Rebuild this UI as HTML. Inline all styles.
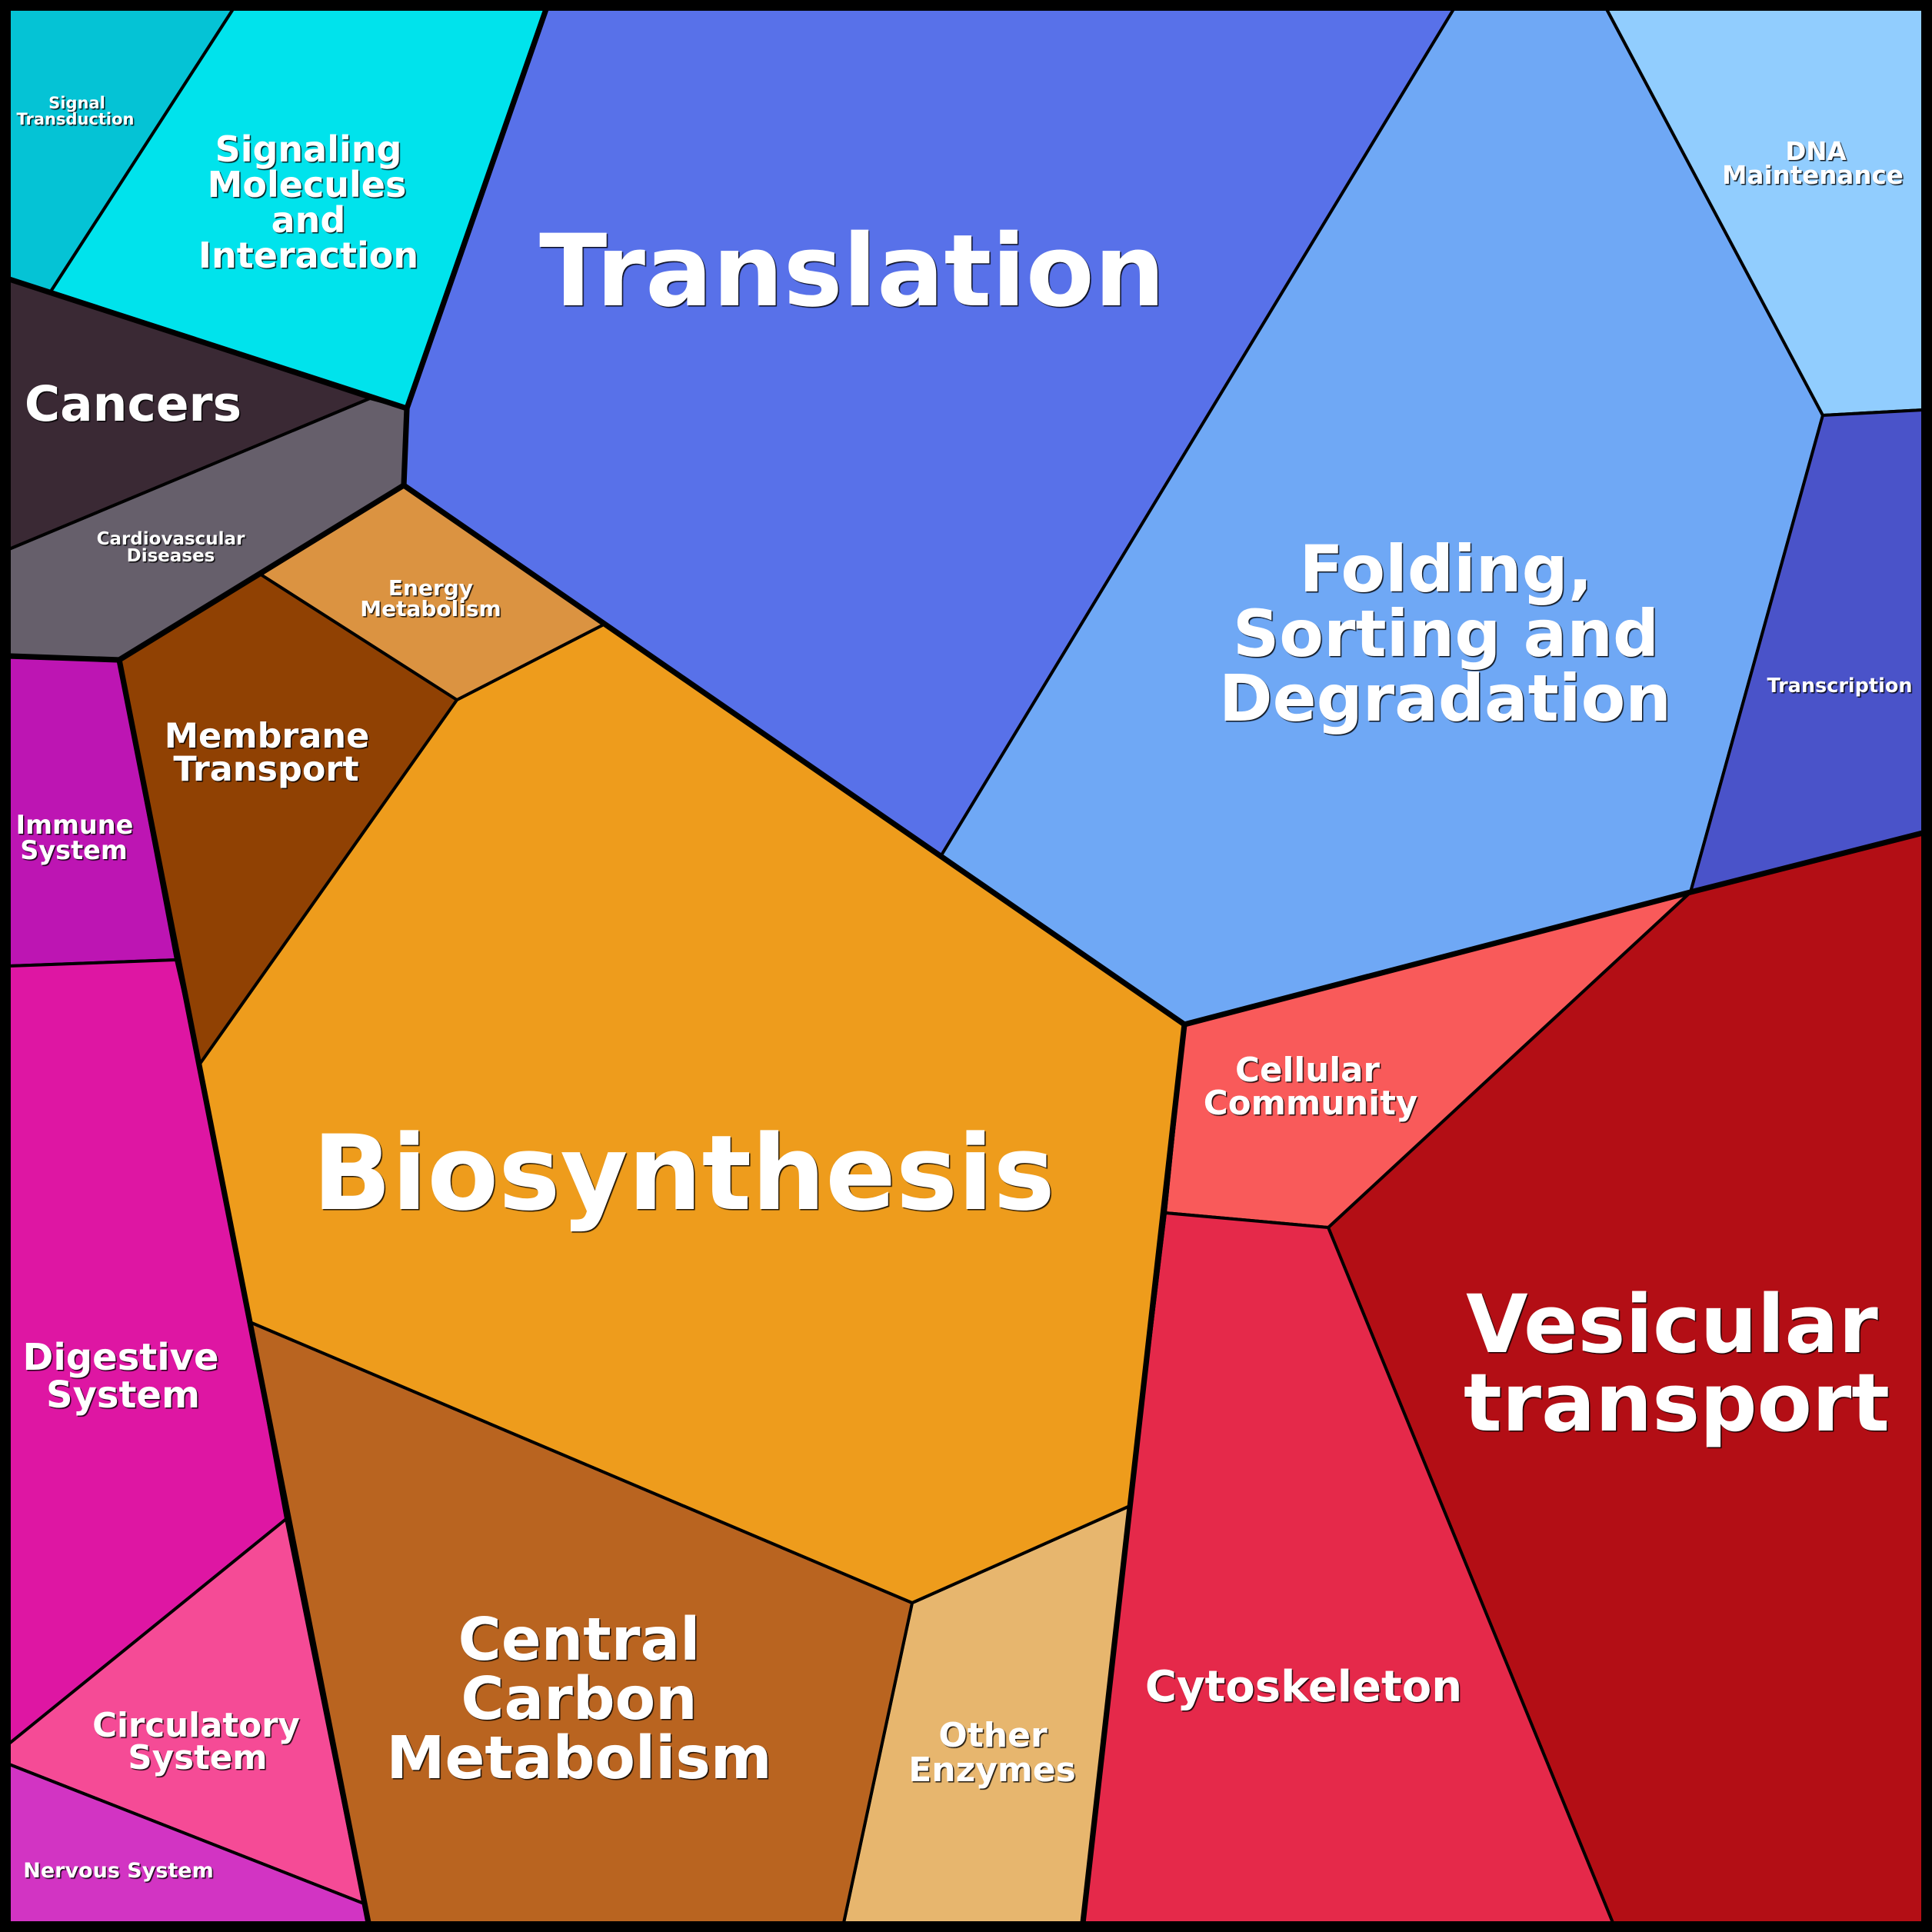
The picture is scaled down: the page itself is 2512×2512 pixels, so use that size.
<!DOCTYPE html>
<html><head><meta charset="utf-8"><style>
html,body{margin:0;padding:0;background:#000}
svg{display:block}
text{font-family:"DejaVu Sans","Liberation Sans",sans-serif;font-weight:bold;fill:#fff;text-anchor:middle;text-shadow:1.5px 1.5px 0.8px rgba(0,0,0,.85)}
.t polygon{stroke:#000;stroke-width:4;stroke-linejoin:round}
.b polyline{fill:none;stroke:#000;stroke-width:7.2;stroke-linejoin:round}
</style></head><body>
<svg width="2512" height="2512" viewBox="0 0 2512 2512" xmlns="http://www.w3.org/2000/svg">
<rect width="2512" height="2512" fill="#000"/>
<g class="t">
<polygon fill="#05C3D5" points="12,12 303,12 66,379 12,363"/>
<polygon fill="#00E3EC" points="303,12 710,12 529,531 66,379"/>
<polygon fill="#3A2934" points="12,363 481,518 12,714"/>
<polygon fill="#665F6B" points="481,518 529,531 525,631 155,858 12,853 12,714"/>
<polygon fill="#5871E9" points="710,12 1890,12 1224,1112 525,631 529,531"/>
<polygon fill="#6FA8F5" points="1890,12 2089,12 2370,540 2198,1160 1540,1332 1224,1112"/>
<polygon fill="#91CDFE" points="2089,12 2500,12 2500,533 2370,540"/>
<polygon fill="#4A53C9" points="2370,540 2500,533 2500,1083 2198,1160"/>
<polygon fill="#B30E15" points="2198,1160 2500,1083 2500,2500 2097,2500 1727,1596"/>
<polygon fill="#F95A5A" points="1540,1332 2198,1160 1727,1596 1515,1577"/>
<polygon fill="#E5294A" points="1515,1577 1727,1596 2097,2500 1408,2500 1469,1958"/>
<polygon fill="#E7B66E" points="1469,1958 1408,2500 1097,2500 1186,2084"/>
<polygon fill="#B96420" points="325,1719 1186,2084 1097,2500 479,2500"/>
<polygon fill="#EE9C1C" points="785,812 1224,1112 1540,1332 1515,1577 1469,1958 1186,2084 325,1719 260,1383 594,910"/>
<polygon fill="#DB9341" points="525,631 785,812 594,910 339,747"/>
<polygon fill="#904103" points="339,747 594,910 260,1383 229,1248 155,858"/>
<polygon fill="#BD15B3" points="12,853 155,858 229,1248 12,1256"/>
<polygon fill="#DE16A3" points="12,1256 229,1248 260,1383 325,1719 372,1975 12,2267"/>
<polygon fill="#F54B96" points="372,1975 473,2475 12,2294 12,2267"/>
<polygon fill="#D234C3" points="12,2294 473,2475 479,2500 12,2500"/>
</g>
<g class="b">
<polyline points="12,363 529,531 710,12"/>
<polyline points="529,531 525,631 1540,1332 2198,1160 2500,1083"/>
<polyline points="525,631 155,858 12,853"/>
<polyline points="155,858 479,2500"/>
<polyline points="1540,1332 1408,2500"/>
</g>
<path fill="#000" fill-rule="evenodd" d="M0 0H2512V2512H0ZM12 12V2500.5H2500.5V12Z"/>
<text font-size="129.5" x="1108" y="397">Translation</text>
<text font-size="135" x="889" y="1572">Biosynthesis</text>
<text font-size="104" x="2174" y="1758">Vesicular</text>
<text font-size="104" x="2180" y="1860">transport</text>
<text font-size="84" x="1880" y="769">Folding,</text>
<text font-size="84" x="1880" y="853">Sorting and</text>
<text font-size="84" x="1879" y="937">Degradation</text>
<text font-size="76.5" x="753" y="2158">Central</text>
<text font-size="76.5" x="753" y="2235">Carbon</text>
<text font-size="76.5" x="753" y="2312">Metabolism</text>
<text font-size="56" x="1695" y="2212">Cytoskeleton</text>
<text font-size="46" x="401" y="210">Signaling</text>
<text font-size="46" x="399" y="256">Molecules</text>
<text font-size="46" x="401" y="302">and</text>
<text font-size="46" x="401" y="348">Interaction</text>
<text font-size="63" x="173" y="547">Cancers</text>
<text font-size="21" x="100" y="141">Signal</text>
<text font-size="21" x="98" y="162">Transduction</text>
<text font-size="23" x="222" y="708">Cardiovascular</text>
<text font-size="23" x="222" y="730">Diseases</text>
<text font-size="28" x="560" y="774">Energy</text>
<text font-size="28" x="560" y="801">Metabolism</text>
<text font-size="44.5" x="347" y="972">Membrane</text>
<text font-size="44.5" x="346" y="1015">Transport</text>
<text font-size="33.5" x="97" y="1084">Immune</text>
<text font-size="33.5" x="96" y="1117">System</text>
<text font-size="48" x="157" y="1781">Digestive</text>
<text font-size="48" x="160" y="1830">System</text>
<text font-size="43.5" x="255" y="2258">Circulatory</text>
<text font-size="43.5" x="257" y="2300">System</text>
<text font-size="27" x="154" y="2441">Nervous System</text>
<text font-size="44" x="1291" y="2271">Other</text>
<text font-size="44" x="1290" y="2316">Enzymes</text>
<text font-size="43.5" x="1700" y="1406">Cellular</text>
<text font-size="43.5" x="1704" y="1449">Community</text>
<text font-size="32.5" x="2361" y="208">DNA</text>
<text font-size="32.5" x="2357" y="239">Maintenance</text>
<text font-size="25.5" x="2392" y="900">Transcription</text>
</svg>
</body></html>
